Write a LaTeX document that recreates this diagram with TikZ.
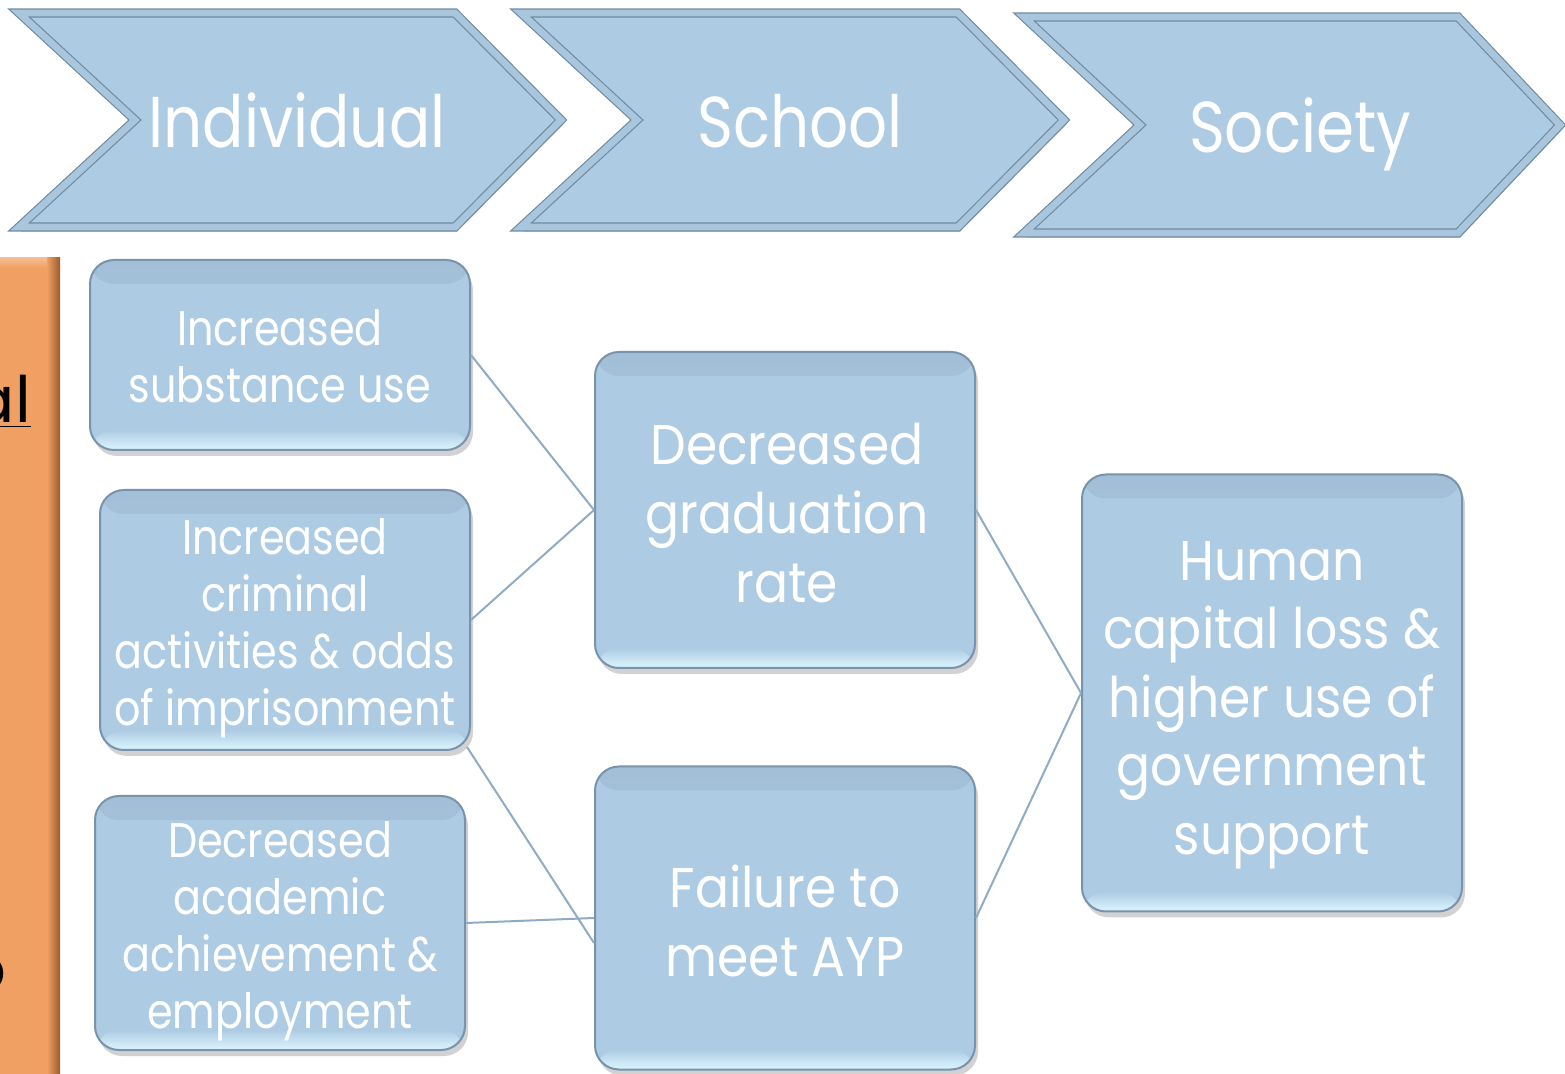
\documentclass[tikz,border=0pt]{standalone}
\usepackage{fontspec}
\setmainfont{Poppins}
\newfontfamily\labelfont{Poppins}[FakeStretch=0.85]
\newfontfamily\widefont{Poppins}[FakeStretch=0.9]
\usetikzlibrary{shadows,calc}

\definecolor{boxfill}{HTML}{ADCBE3}
\definecolor{boxtop}{HTML}{A2BFD7}
\definecolor{boxglow}{HTML}{DDF6FF}
\definecolor{boxedge}{HTML}{7893AB}
\definecolor{chevedge}{HTML}{6F8CA5}
\definecolor{chevband}{HTML}{A9C6DC}
\definecolor{linkcol}{HTML}{8EACC6}
\definecolor{sideorange}{HTML}{F0A062}
\definecolor{sidebrown}{HTML}{9A5B2E}

\tikzset{
  chevron/.style={fill=boxfill, draw=chevedge, line width=0.6pt,
    double=chevband, double distance=3.4pt, line join=miter, miter limit=3,
    drop shadow={shadow xshift=1pt, shadow yshift=-2.5pt, opacity=.3}},
  chevtext/.style={text=white, anchor=base,
    font=\labelfont\fontsize{36}{40}\selectfont},
  effect/.style={rounded corners=12pt, fill=boxfill, draw=boxedge,
    line width=1pt, inner sep=0pt,
    drop shadow={shadow xshift=1.5pt, shadow yshift=-3pt, opacity=.35},
    path picture={
      \shade[top color=boxtop, bottom color=boxfill]
        (path picture bounding box.north west) rectangle
        ([yshift=-12pt]path picture bounding box.north east);
      \shade[top color=boxfill, bottom color=boxglow]
        ([yshift=10pt]path picture bounding box.south west) rectangle
        (path picture bounding box.south east);
    }},
  smalltext/.style={align=center, text=white, inner sep=0pt,
    font=\labelfont\fontsize{24.3}{28.5}\selectfont},
  bigtext/.style={align=center, text=white, inner sep=0pt,
    font=\widefont\fontsize{28}{34.3}\selectfont},
  sidetext/.style={anchor=base east, text=black, font=\fontsize{32}{34}\selectfont},
  link/.style={draw=linkcol, line width=1pt},
}

\begin{document}
\begin{tikzpicture}[x=0.5pt, y=-0.5pt]
\useasboundingbox (0,0) rectangle (1565,1074);
\fill[white] (0,0) rectangle (1565,1074);

% side panel on the left
\fill[sideorange] (-10,258) rectangle (60,1084);
\shade[left color=sideorange, right color=sidebrown] (47,258) rectangle (60,1074);
\shade[top color=sideorange!70!white, bottom color=sideorange] (-10,258) rectangle (47,268);
\node[sidetext] (sidea) at (38,423) {\underline{al}};
\node[sidetext] (sideb) at (5,830) {-};
\node[sidetext] (sidec) at (14,992) {o};

% stage chevrons
\draw[chevron] (19,13) -- (455,13) -- (561,120) -- (455,227) -- (19,227) -- (135,120) -- cycle;
\draw[chevron] (521,13) -- (958,13) -- (1064,120) -- (958,227) -- (521,227) -- (637,120) -- cycle;
\draw[chevron] (1024,17) -- (1458,17) -- (1560,125) -- (1458,233) -- (1024,233) -- (1140,125) -- cycle;
\node[chevtext] (ind) at (297,148) {Individual};
\node[chevtext] (sch) at (800,148) {School};
\node[chevtext] (soc) at (1300,153) {Society};

% effect boxes
\node[effect, minimum width=190pt, minimum height=95pt] (A) at (280,355) {};
\node[effect, minimum width=185pt, minimum height=130pt] (B) at (285,620) {};
\node[effect, minimum width=185pt, minimum height=127pt] (C) at (280,923) {};
\node[effect, minimum width=190pt, minimum height=158pt] (D) at (785,510) {};
\node[effect, minimum width=190pt, minimum height=151.5pt] (E) at (785,918) {};
\node[effect, minimum width=190pt, minimum height=218.5pt] (F) at (1272,693) {};

% box captions
\node[smalltext] (At) at ($(A.center)+(0,1)$) {Increased\\substance use};
\node[smalltext] (Bt) at ($(B.center)+(0,8)$) {Increased\\criminal\\activities \& odds\\of imprisonment};
\node[smalltext] (Ct) at ($(C.center)+(0,8)$) {Decreased\\academic\\achievement \&\\employment};
\node[bigtext] (Dt) at ($(D.center)+(2,3)$) {Decreased\\graduation\\rate};
\node[bigtext] (Et) at ($(E.center)+(0,3)$) {Failure to\\meet AYP};
\node[bigtext] (Ft) at ($(F.center)+(0,12)$) {Human\\capital loss \&\\higher use of\\government\\support};

% links between effects
\draw[link] (A.east) -- (D.west);
\draw[link] (B.east) -- (D.west);
\draw[link] ([shift={(-4,-4)}]B.south east) -- ([yshift=-12.5pt]E.west);
\draw[link] (C.east) -- (E.west);
\draw[link] (D.east) -- (F.west);
\draw[link] (E.east) -- (F.west);
\end{tikzpicture}
\end{document}
